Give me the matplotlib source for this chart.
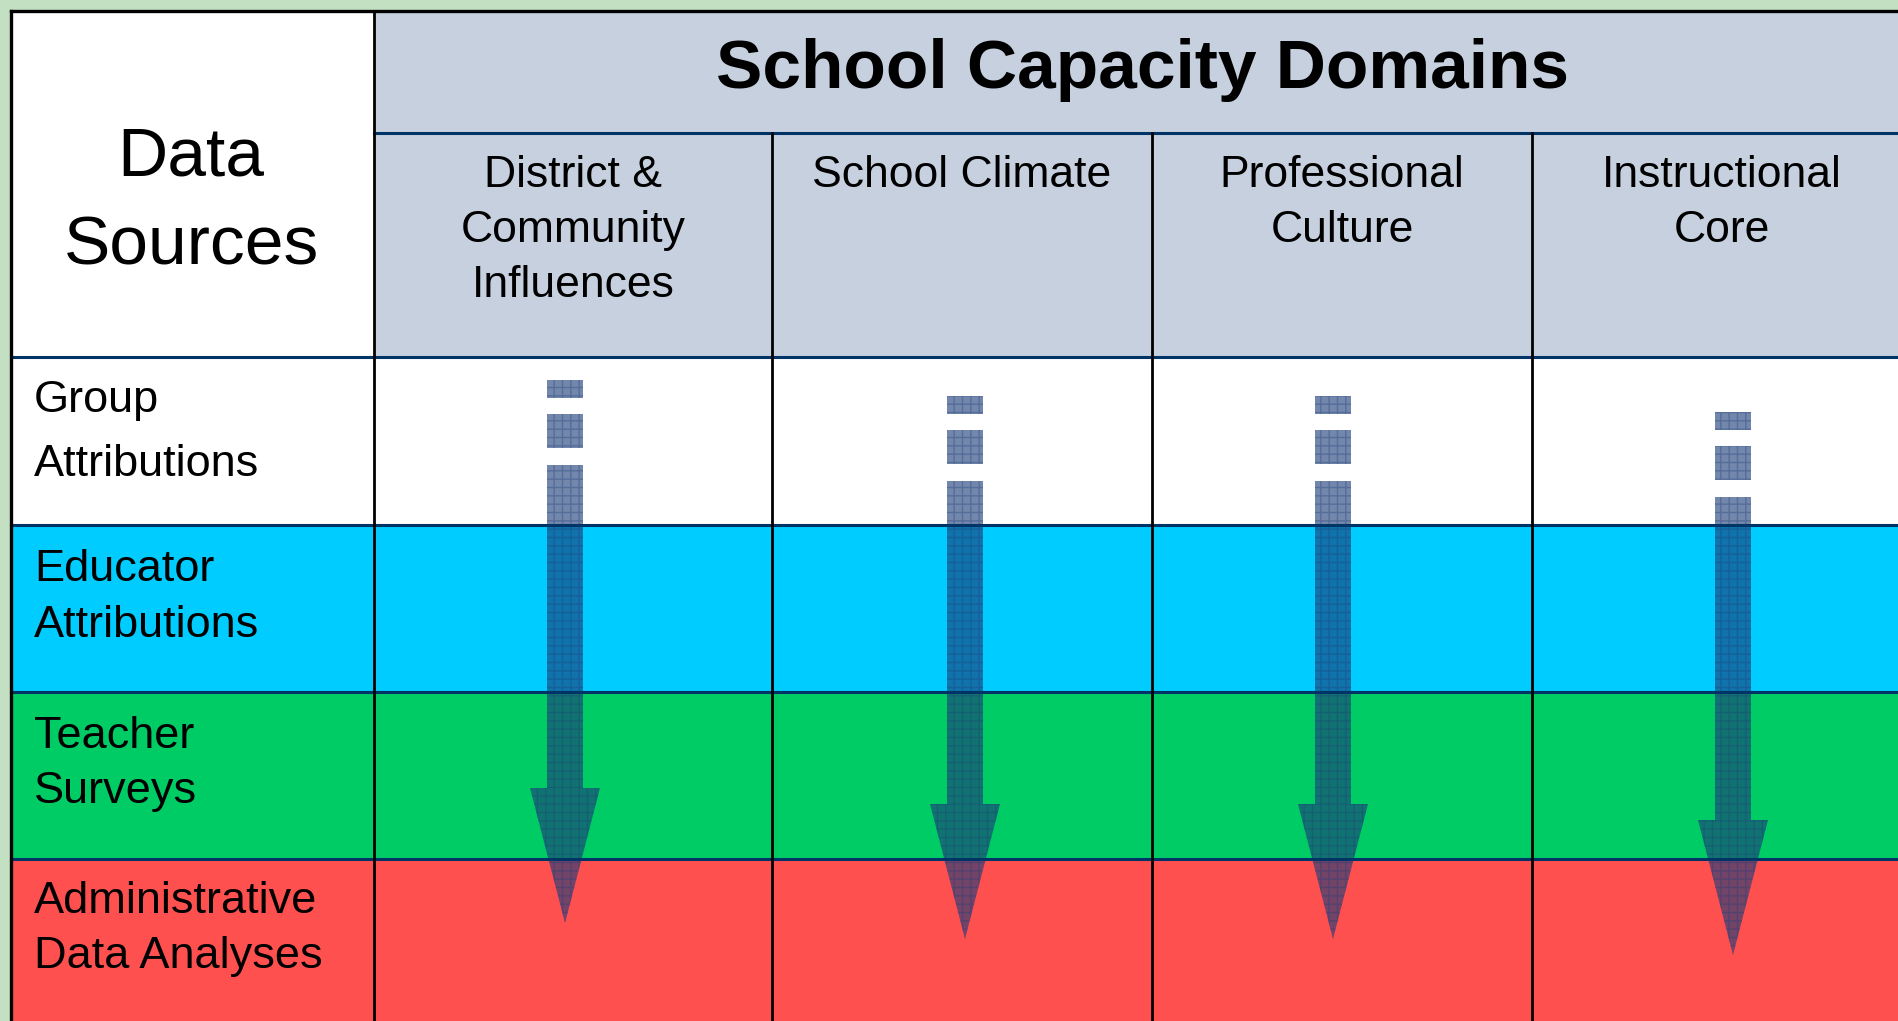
import matplotlib.pyplot as plt
from matplotlib.patches import Rectangle, Polygon

plt.rcParams['font.family'] = ['Liberation Sans', 'DejaVu Sans']
plt.rcParams['hatch.linewidth'] = 1.0

W, H = 1898, 1021

title = 'School Capacity Domains'
corner_lines = ['Data', 'Sources']
domains = [['District &', 'Community', 'Influences'],
           ['School Climate'],
           ['Professional', 'Culture'],
           ['Instructional', 'Core']]
sources = [['Group', 'Attributions'],
           ['Educator', 'Attributions'],
           ['Teacher', 'Surveys'],
           ['Administrative', 'Data Analyses']]
row_colors = ['#ffffff', '#00ccff', '#00cc66', '#ff5050']

# layout (pixels)
col_edges = [374, 772, 1152, 1532, 1912]
row_edges = [357, 525, 692, 859, 1021]
row_baselines = [[412, 476], [581, 637], [748, 803], [913, 968]]
arrow_x = [565, 965, 1333, 1733]
arrow_shift = [0, 16, 16, 32]

fig = plt.figure(figsize=(W / 100, H / 100), dpi=100)
fig.patch.set_facecolor('#c4e0c2')
ax = fig.add_axes([0, 0, 1, 1])
ax.set_xlim(0, W)
ax.set_ylim(H, 0)
ax.axis('off')

# cells
ax.add_patch(Rectangle((11, 11), col_edges[0] - 11, row_edges[0] - 11, fc='white', ec='none'))
ax.add_patch(Rectangle((col_edges[0], 11), W, row_edges[0] - 11, fc='#c6d0df', ec='none'))
for i, c in enumerate(row_colors):
    ax.add_patch(Rectangle((11, row_edges[i]), W, row_edges[i + 1] - row_edges[i], fc=c, ec='none'))

# arrows
navy = (0.11, 0.24, 0.47)
for x, s in zip(arrow_x, arrow_shift):
    pieces = [
        [(x - 18, 380 + s), (x + 18, 380 + s), (x + 18, 398 + s), (x - 18, 398 + s)],
        [(x - 18, 414 + s), (x + 18, 414 + s), (x + 18, 448 + s), (x - 18, 448 + s)],
        [(x - 18, 465 + s), (x + 18, 465 + s), (x + 18, 788 + s), (x + 35, 788 + s),
         (x, 923 + s), (x - 35, 788 + s), (x - 18, 788 + s)],
    ]
    for p in pieces:
        ax.add_patch(Polygon(p, closed=True, fc=navy + (0.62,), ec='none', zorder=3))
        ax.add_patch(Polygon(p, closed=True, fc='none', ec=navy + (0.35,), lw=0,
                             hatch='++', zorder=3))

# grid lines
for y in row_edges[:-1]:
    ax.plot([11, W], [y, y], color='#003366', lw=2.2, zorder=4)
ax.plot([col_edges[0], W], [133, 133], color='#003366', lw=2.2, zorder=4)
for x in col_edges[1:-1]:
    ax.plot([x, x], [133, H], color='black', lw=2, zorder=5)
ax.plot([col_edges[0], col_edges[0]], [11, H], color='black', lw=2, zorder=5)
ax.plot([11.5, 11.5], [11, H], color='black', lw=2.4, zorder=5)
ax.plot([11, W], [11, 11], color='black', lw=2.4, zorder=5)

# text
ax.text(1143, 88, title, fontsize=50, fontweight='bold', ha='center', va='baseline')
for line, yb in zip(corner_lines, [176, 264]):
    ax.text(191, yb, line, fontsize=50, ha='center', va='baseline')
for j, lines in enumerate(domains):
    cx = (col_edges[j] + col_edges[j + 1]) / 2
    for k, line in enumerate(lines):
        ax.text(cx, 187 + 55 * k, line, fontsize=32, ha='center', va='baseline')
for lines, ybs in zip(sources, row_baselines):
    for line, yb in zip(lines, ybs):
        ax.text(34, yb, line, fontsize=32.5, ha='left', va='baseline')

fig.savefig('out.png', dpi=100, facecolor=fig.get_facecolor())
